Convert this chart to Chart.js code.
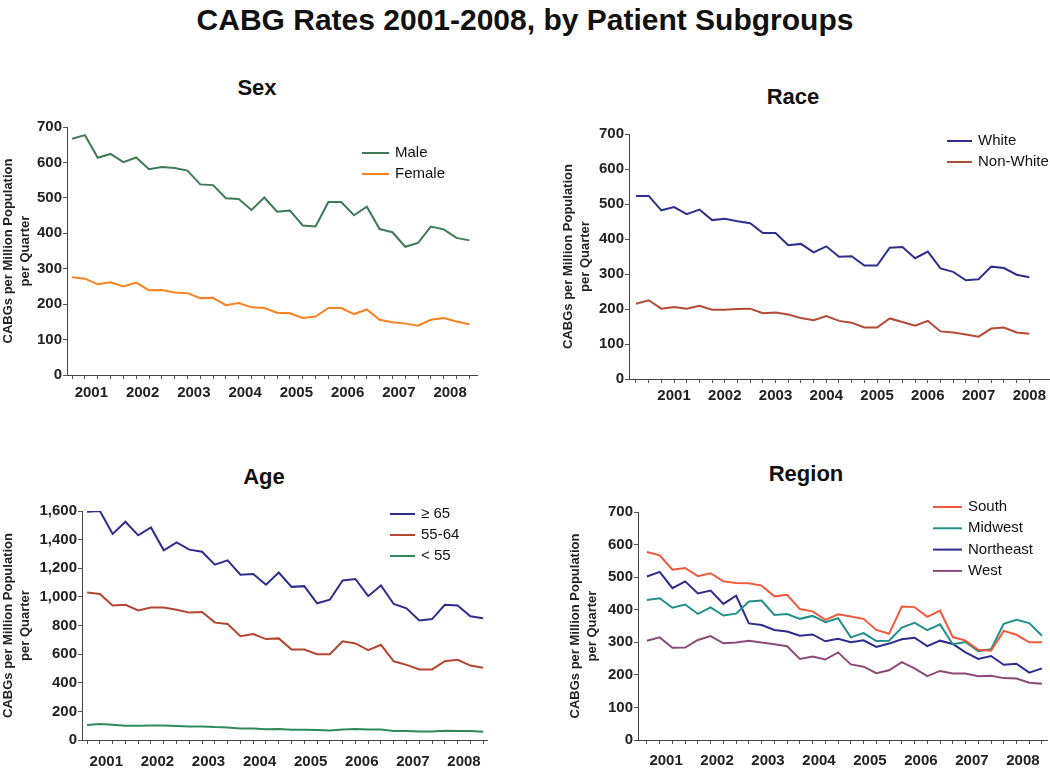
<!DOCTYPE html>
<html>
<head>
<meta charset="utf-8">
<script src="https://cdn.jsdelivr.net/npm/chart.js@4.4.1/dist/chart.umd.min.js"></script>
<style>
  body { margin: 0; background: #fff; width: 1050px; height: 768px; position: relative; overflow: hidden;
         font-family: "Liberation Sans", Arial, sans-serif; color: #111; }
  h1 { position: absolute; left: 0; top: 0; width: 1050px; margin: 0; text-align: center;
       font-size: 30px; font-weight: bold; line-height: 40px; }
  h2 { position: absolute; margin: 0; font-size: 22px; font-weight: bold; line-height: 26px;
       transform: translateX(-50%); white-space: nowrap; }
  canvas { position: absolute; }
</style>
</head>
<body>
<h1>CABG Rates 2001-2008, by Patient Subgroups</h1>
<h2 style="left:257px;top:75px">Sex</h2>
<h2 style="left:793px;top:84px">Race</h2>
<h2 style="left:264px;top:464px">Age</h2>
<h2 style="left:806px;top:461px">Region</h2>
<canvas id="sex" width="514" height="345" style="left:0;top:60px"></canvas>
<canvas id="race" width="490" height="345" style="left:560px;top:60px"></canvas>
<canvas id="age" width="510" height="332" style="left:0;top:440px"></canvas>
<canvas id="region" width="490" height="332" style="left:560px;top:440px"></canvas>
<script>
// quarterly rates, 2001 Q1 .. 2008 Q4
var years = ['2001', '2002', '2003', '2004', '2005', '2006', '2007', '2008'];
var quarters = [];
years.forEach(function (y) { ['Q1', 'Q2', 'Q3', 'Q4'].forEach(function (q) { quarters.push(y + ' ' + q); }); });

var maleRates   = [667, 677, 613, 624, 601, 614, 581, 587, 584, 577, 538, 536, 499, 497, 466, 501, 461, 464, 422, 419, 488, 488, 451, 475, 412, 403, 362, 373, 419, 411, 387, 380];
var femaleRates = [276, 272, 256, 262, 250, 261, 239, 240, 233, 231, 217, 218, 197, 203, 191, 189, 176, 174, 161, 165, 189, 189, 172, 185, 156, 149, 145, 139, 156, 161, 151, 143];

var whiteRates    = [523, 523, 482, 491, 471, 484, 454, 458, 451, 445, 417, 417, 382, 386, 362, 379, 349, 351, 324, 324, 375, 377, 345, 364, 316, 306, 282, 285, 321, 317, 298, 291];
var nonWhiteRates = [215, 225, 201, 206, 201, 209, 198, 198, 200, 201, 188, 190, 184, 174, 168, 180, 166, 161, 147, 147, 173, 163, 152, 166, 136, 133, 127, 121, 144, 147, 133, 129];

var age65Rates      = [1595, 1600, 1440, 1525, 1430, 1485, 1325, 1380, 1330, 1315, 1225, 1255, 1155, 1160, 1085, 1170, 1070, 1075, 955, 980, 1115, 1125, 1005, 1080, 950, 920, 835, 845, 945, 940, 865, 850];
var age5564Rates    = [1030, 1020, 940, 945, 905, 925, 925, 910, 890, 895, 820, 810, 725, 740, 705, 710, 632, 632, 600, 600, 690, 675, 628, 665, 550, 525, 493, 493, 550, 560, 520, 505];
var ageUnder55Rates = [105, 112, 107, 100, 100, 102, 102, 98, 95, 95, 90, 87, 80, 80, 75, 77, 72, 72, 70, 67, 74, 77, 74, 74, 63, 63, 60, 60, 65, 63, 63, 58];

var southRates     = [577, 567, 523, 528, 503, 512, 487, 482, 481, 474, 441, 446, 402, 395, 369, 386, 379, 372, 338, 326, 410, 408, 378, 397, 316, 305, 277, 274, 335, 323, 300, 300];
var midwestRates   = [430, 435, 406, 416, 387, 407, 382, 388, 425, 428, 384, 387, 372, 381, 362, 374, 315, 328, 304, 305, 345, 360, 337, 355, 294, 301, 273, 279, 357, 369, 359, 320];
var northeastRates = [502, 516, 466, 487, 450, 459, 418, 443, 358, 353, 338, 333, 320, 324, 303, 311, 300, 306, 286, 296, 309, 314, 288, 305, 295, 269, 249, 258, 231, 234, 207, 220];
var westRates      = [305, 315, 283, 284, 307, 319, 297, 299, 305, 299, 294, 288, 249, 256, 247, 269, 232, 225, 205, 214, 239, 220, 196, 212, 204, 204, 196, 197, 190, 189, 176, 173];

var FONT = '"Liberation Sans", Arial, sans-serif';

// legend drawn inside the plot, like the original slide
var legendInside = {
    id: 'legendInside',
    afterDatasetsDraw: function (chart, args, o) {
        var ctx = chart.ctx;
        ctx.save();
        ctx.font = '15px ' + FONT;
        ctx.textBaseline = 'middle';
        chart.data.datasets.forEach(function (ds, i) {
            var y = o.y + i * o.gap;
            ctx.strokeStyle = ds.borderColor;
            ctx.lineWidth = 2;
            ctx.beginPath();
            ctx.moveTo(o.x, y);
            ctx.lineTo(o.x + o.len, y);
            ctx.stroke();
            ctx.fillStyle = '#111';
            ctx.fillText(ds.label, o.x + o.len + 6, y);
        });
        ctx.restore();
    }
};

function makePanel(id, p) {
    var ctx = document.getElementById(id).getContext('2d');
    return new Chart(ctx, {
        type: 'line',
        data: {
            datasets: p.series.map(function (s) {
                return {
                    label: s.label,
                    data: s.values.map(function (v, i) { return { x: i, y: v }; }),
                    borderColor: s.color,
                    borderWidth: 2,
                    pointRadius: 0,
                    tension: 0,
                    fill: false
                };
            })
        },
        options: {
            responsive: false,
            animation: false,
            layout: { padding: { left: 0, right: p.padRight, top: p.padTop, bottom: 0 } },
            plugins: {
                legend: { display: false },
                tooltip: { enabled: false },
                legendInside: p.legend
            },
            scales: {
                x: {
                    type: 'linear',
                    min: p.xMin,
                    max: p.xMax,
                    afterBuildTicks: function (axis) {
                        axis.ticks = quarters.map(function (q, i) { return { value: i }; });
                    },
                    afterFit: function (axis) { axis.height = p.xH; },
                    grid: { drawOnChartArea: false, drawTicks: true, tickLength: 4, color: '#555' },
                    border: { display: true, color: '#444', width: 1 },
                    ticks: {
                        autoSkip: false,
                        maxRotation: 0,
                        padding: p.xPad,
                        labelOffset: p.labelOffset,
                        color: '#222',
                        font: { family: FONT, size: 15, weight: 'bold' },
                        callback: function (v, i) { return i % 4 === p.yearAt ? quarters[i].slice(0, 4) : ''; }
                    }
                },
                y: {
                    min: 0,
                    max: p.yMax,
                    afterFit: function (axis) { axis.width = p.yW; },
                    grid: { drawOnChartArea: false, tickLength: 4, color: '#555' },
                    border: { display: true, color: '#444', width: 1 },
                    ticks: {
                        stepSize: p.yStep,
                        padding: 1,
                        color: '#222',
                        font: { family: FONT, size: 15, weight: 'bold' },
                        callback: function (v) { return v.toLocaleString('en-US'); }
                    },
                    title: {
                        display: true,
                        text: ['CABGs per Million Population', 'per Quarter'],
                        color: '#222',
                        font: { family: FONT, size: 13, weight: 'bold', lineHeight: 1.3 },
                        padding: { top: p.yTitlePad, bottom: 0 }
                    }
                }
            }
        },
        plugins: [legendInside]
    });
}

makePanel('sex', {
    series: [
        { label: 'Male', values: maleRates, color: '#3d7b57' },
        { label: 'Female', values: femaleRates, color: '#f7821f' }
    ],
    padTop: 67, yMax: 700, yStep: 100, yW: 67, padRight: 37,
    xMin: -0.4, xMax: 31.6, xH: 30, xPad: 5, labelOffset: 6.4, yearAt: 1, yTitlePad: 0,
    legend: { x: 362, y: 93, gap: 21, len: 27 }
});

makePanel('race', {
    series: [
        { label: 'White', values: whiteRates, color: '#2e2f8c' },
        { label: 'Non-White', values: nonWhiteRates, color: '#b24a34' }
    ],
    padTop: 74, yMax: 700, yStep: 100, yW: 69, padRight: 0,
    xMin: -0.55, xMax: 32.6, xH: 26, xPad: 4, labelOffset: 0, yearAt: 3, yTitlePad: 0,
    legend: { x: 387, y: 81, gap: 21, len: 25 }
});

makePanel('age', {
    series: [
        { label: '\u2265 65', values: age65Rates, color: '#2e2c8c' },
        { label: '55-64', values: age5564Rates, color: '#b2462f' },
        { label: '< 55', values: ageUnder55Rates, color: '#2f8a5c' }
    ],
    padTop: 71, yMax: 1600, yStep: 200, yW: 82, padRight: 23,
    xMin: -0.4, xMax: 31.3, xH: 32, xPad: 9, labelOffset: 6.4, yearAt: 1, yTitlePad: 0,
    legend: { x: 390, y: 74, gap: 21, len: 25 }
});

makePanel('region', {
    series: [
        { label: 'South', values: southRates, color: '#f2583b' },
        { label: 'Midwest', values: midwestRates, color: '#21908a' },
        { label: 'Northeast', values: northeastRates, color: '#2d2b8c' },
        { label: 'West', values: westRates, color: '#8c4a7a' }
    ],
    padTop: 72, yMax: 700, yStep: 100, yW: 78, padRight: 2,
    xMin: -0.7, xMax: 31.4, xH: 32, xPad: 8, labelOffset: 6.4, yearAt: 1, yTitlePad: 7,
    legend: { x: 373, y: 67, gap: 21.3, len: 29 }
});
</script>
</body>
</html>
